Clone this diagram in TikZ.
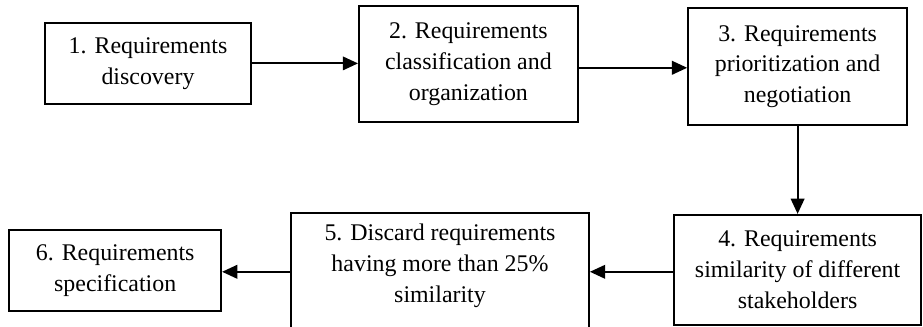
\documentclass[tikz,border=0pt]{standalone}
\usepackage{fontspec}
\setmainfont{Liberation Serif}
\usetikzlibrary{arrows.meta,positioning,calc}
\tikzset{
  stage/.style={draw=black,line width=1.3pt,align=center,inner sep=2pt,
    font=\fontsize{17}{22}\selectfont},
  flow/.style={-{Triangle[length=3.8mm,width=3.4mm]},draw=black,line width=1.3pt},
}
\begin{document}
\begin{tikzpicture}[x=1cm,y=1cm]
  \useasboundingbox (0,0) rectangle (23.075,8.175);
  \clip (0,0) rectangle (23.075,8.175);
  \node[stage,minimum width=5.15cm,minimum height=2.025cm] (discovery) at (3.70,6.59)
    {1. Requirements\\discovery};
  \node[stage,minimum width=5.475cm,minimum height=2.9cm] (classify) at (11.71,6.58)
    {2. Requirements\\classification and\\organization};
  \node[stage,minimum width=5.475cm,minimum height=2.925cm] (prioritize) at (19.94,6.51)
    {3. Requirements\\prioritization and\\negotiation};
  \node[stage,minimum width=6.175cm,minimum height=2.75cm] (similarity) at (19.94,1.43)
    {4. Requirements\\similarity of different\\stakeholders};
  \node[stage,minimum width=7.45cm,minimum height=3.525cm] (discard) at (11.0,1.09)
    {5. Discard requirements\\having more than 25\%\\similarity\\ \strut};
  \node[stage,minimum width=5.3cm,minimum height=2.025cm] (spec) at (2.88,1.41)
    {6. Requirements\\specification};
  \draw[flow] (discovery.east) -- (discovery.east -| classify.west);
  \draw[flow] ($(classify.east)+(0,-.1)$) -- ($(classify.east -| prioritize.west)+(0,-.1)$);
  \draw[flow] (prioritize.south) -- (similarity.north);
  \draw[flow] ($(similarity.west)+(0,-.05)$) -- ($(similarity.west -| discard.east)+(0,-.05)$);
  \draw[flow] ($(similarity.west -| discard.west)+(0,-.05)$) -- ($(similarity.west -| spec.east)+(0,-.05)$);
\end{tikzpicture}
\end{document}
